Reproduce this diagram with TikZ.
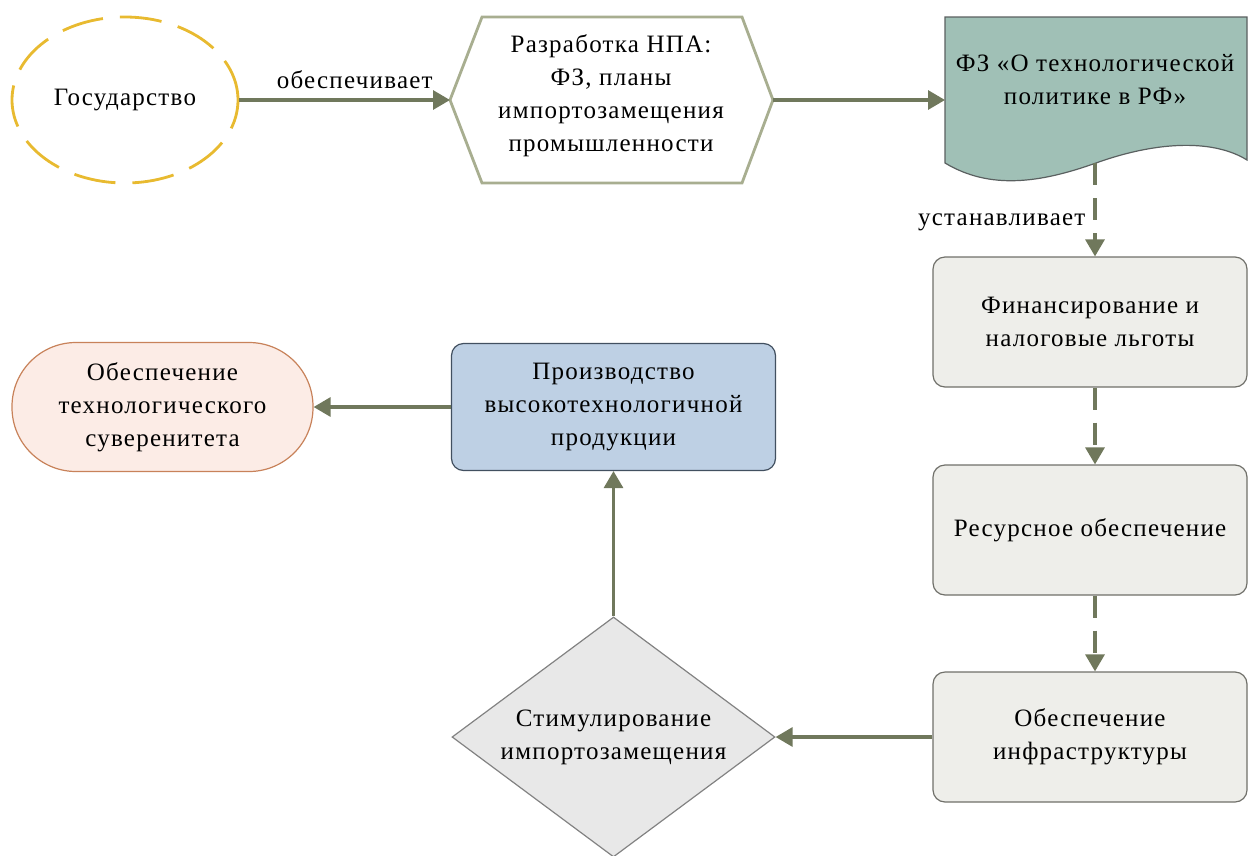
\documentclass[tikz,border=0pt]{standalone}
\usepackage{fontspec}
\setmainfont{Liberation Serif}[LetterSpace=5]
\usetikzlibrary{shapes.geometric,arrows.meta}

\definecolor{arrowc}{RGB}{112,120,92}
\definecolor{hexline}{RGB}{168,174,144}
\definecolor{ovalline}{RGB}{232,186,48}
\definecolor{docfill}{RGB}{160,192,182}
\definecolor{docline}{RGB}{90,96,96}
\definecolor{greyfill}{RGB}{238,238,234}
\definecolor{greyline}{RGB}{112,112,106}
\definecolor{bluefill}{RGB}{190,208,228}
\definecolor{blueline}{RGB}{66,80,96}
\definecolor{pinkfill}{RGB}{252,236,230}
\definecolor{pinkline}{RGB}{200,130,90}
\definecolor{diafill}{RGB}{232,232,232}
\definecolor{dialine}{RGB}{130,130,130}

\newcommand\diagfont{\fontsize{25}{33}\selectfont}

\tikzset{
  base/.style={font=\diagfont, align=center, text=black, inner sep=0pt},
  link/.style={draw=arrowc, line width=3.2pt, -{Triangle[length=17pt,width=19pt]}},
  dlink/.style={link, dash pattern=on 22pt off 13pt},
  greybox/.style={base, draw=greyline, fill=greyfill, rounded corners=12pt,
    line width=1.2pt, minimum width=314pt, minimum height=130pt},
  lbl/.style={font=\diagfont, text=black, inner sep=0pt}
}

\begin{document}
\begin{tikzpicture}[x=1pt,y=-1pt]
\useasboundingbox (0,0) rectangle (1248,855);

% state (dashed oval)
\node[base, ellipse, draw=ovalline, line width=2.8pt, dash pattern=on 42pt off 17pt,
  minimum width=226pt, minimum height=166pt] (gos) at (125,100) {Государство};

% legislation development (hexagon)
\path[draw=hexline, fill=white, line width=2.8pt]
  (450,100) -- (482,17) -- (742,17) -- (773,100) -- (742,183) -- (482,183) -- cycle;
\coordinate (hexL) at (450,100);
\coordinate (hexR) at (773,100);
\node[base] (hex) at (611,96) {Разработка НПА:\\ФЗ, планы\\импортозамещения\\промышленности};

% federal law (document shape)
\path[draw=docline, fill=docfill, line width=1.2pt]
  (945,17) -- (1247,17) -- (1247,160)
  .. controls (1215,140) and (1160,140) .. (1096,163)
  .. controls (1040,183) and (990,190) .. (945,163) -- cycle;
\coordinate (docL) at (945,100);
\coordinate (docB) at (1095,163);
\node[base] (fz) at (1095,80) {ФЗ «О технологической\\политике в РФ»};

% support measures
\node[greybox] (fin) at (1090,322) {Финансирование и\\налоговые льготы};
\node[greybox] (res) at (1090,530) {Ресурсное обеспечение};
\node[greybox] (inf) at (1090,737) {Обеспечение\\инфраструктуры};

% stimulation (diamond); the text sits on it as a centred label
\node[diamond, draw=dialine, fill=diafill, line width=1.2pt, inner sep=0pt,
  minimum width=323pt, minimum height=240pt,
  label={[base]center:Стимулирование\\импортозамещения}] (stim) at (613.5,737) {};

% production
\node[base, draw=blueline, fill=bluefill, rounded corners=12pt, line width=1.2pt,
  minimum width=324pt, minimum height=127pt] (prod) at (613.5,407)
  {Производство\\высокотехнологичной\\продукции};

% sovereignty (pill)
\node[base, draw=pinkline, fill=pinkfill, rounded corners=64pt, line width=1.2pt,
  minimum width=301pt, minimum height=129pt] (sov) at (162.5,407)
  {Обеспечение\\технологического\\суверенитета};

% connectors
\draw[link] (gos.east) -- node[lbl, above=10pt, xshift=10pt] {обеспечивает} (hexL);
\draw[link] (hexR) -- (docL);
\draw[dlink] (docB) -- node[lbl, left=8pt, pos=0.64] {устанавливает} (docB |- fin.north);
\draw[dlink] (docB |- fin.south) -- (docB |- res.north);
\draw[dlink] (docB |- res.south) -- (docB |- inf.north);
\draw[link] (inf.west) -- (stim.east);
\draw[link] (stim.north) -- (prod.south);
\draw[link] (prod.west) -- (sov.east);
\end{tikzpicture}
\end{document}
